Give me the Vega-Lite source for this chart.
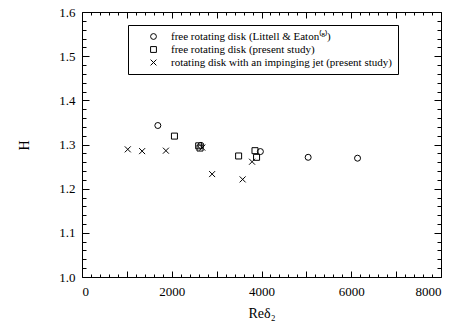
{
  "$schema": "https://vega.github.io/schema/vega-lite/v6.json",
  "autosize": {"type": "none"},
  "width": 359,
  "height": 265,
  "padding": {"left": 82, "top": 12, "right": 20, "bottom": 56},
  "background": "white",
  "config": {
    "view": {"stroke": "black", "strokeWidth": 1},
    "font": "Liberation Serif",
    "axis": {
      "grid": false,
      "domain": false,
      "labelFont": "Liberation Serif",
      "labelFontSize": 13,
      "labelColor": "black",
      "titleFont": "Liberation Serif",
      "titleFontSize": 14,
      "titleFontWeight": "normal",
      "titleColor": "black",
      "tickColor": "black",
      "tickWidth": 1
    }
  },
  "data": {
    "values": [
      {"Re": 1690, "H": 1.343, "series": "free rotating disk (Littell & Eaton⁽⁸⁾)"},
      {"Re": 2650, "H": 1.298, "series": "free rotating disk (Littell & Eaton⁽⁸⁾)"},
      {"Re": 3975, "H": 1.284, "series": "free rotating disk (Littell & Eaton⁽⁸⁾)"},
      {"Re": 5040, "H": 1.271, "series": "free rotating disk (Littell & Eaton⁽⁸⁾)"},
      {"Re": 6140, "H": 1.269, "series": "free rotating disk (Littell & Eaton⁽⁸⁾)"},
      {"Re": 2060, "H": 1.319, "series": "free rotating disk (present study)"},
      {"Re": 2600, "H": 1.297, "series": "free rotating disk (present study)"},
      {"Re": 2630, "H": 1.292, "series": "free rotating disk (present study)"},
      {"Re": 3490, "H": 1.274, "series": "free rotating disk (present study)"},
      {"Re": 3855, "H": 1.286, "series": "free rotating disk (present study)"},
      {"Re": 3890, "H": 1.271, "series": "free rotating disk (present study)"},
      {"Re": 1020, "H": 1.289, "series": "rotating disk with an impinging jet (present study)"},
      {"Re": 1340, "H": 1.285, "series": "rotating disk with an impinging jet (present study)"},
      {"Re": 1870, "H": 1.286, "series": "rotating disk with an impinging jet (present study)"},
      {"Re": 2680, "H": 1.293, "series": "rotating disk with an impinging jet (present study)"},
      {"Re": 2900, "H": 1.233, "series": "rotating disk with an impinging jet (present study)"},
      {"Re": 3580, "H": 1.221, "series": "rotating disk with an impinging jet (present study)"},
      {"Re": 3790, "H": 1.261, "series": "rotating disk with an impinging jet (present study)"}
    ]
  },
  "resolve": {"axis": {"x": "independent", "y": "independent"}},
  "layer": [
    {
      "mark": {"type": "point", "filled": false, "color": "black", "strokeWidth": 1, "opacity": 1},
      "encoding": {
        "x": {
          "field": "Re", "type": "quantitative",
          "scale": {"domain": [0, 8000], "nice": false, "zero": false},
          "axis": {"orient": "bottom", "values": [0, 2000, 4000, 6000, 8000], "format": "d", "ticks": false, "labelPadding": 8, "title": "Reδ₂", "titlePadding": 8}
        },
        "y": {
          "field": "H", "type": "quantitative",
          "scale": {"domain": [1.0, 1.6], "nice": false, "zero": false},
          "axis": {"orient": "left", "values": [1.0, 1.1, 1.2, 1.3, 1.4, 1.5, 1.6], "format": ".1f", "ticks": false, "labelPadding": 7, "title": "H", "titleX": -58, "titleY": 133, "titleAngle": -90, "titleBaseline": "middle"}
        },
        "shape": {
          "field": "series", "type": "nominal",
          "scale": {
            "domain": ["free rotating disk (Littell & Eaton⁽⁸⁾)", "free rotating disk (present study)", "rotating disk with an impinging jet (present study)"],
            "range": ["circle", "square", "M-1,-1L1,1M-1,1L1,-1"]
          },
          "legend": {
            "orient": "none", "legendX": 46, "legendY": 13, "title": null,
            "strokeColor": "black", "padding": 6, "fillColor": "white",
            "labelFont": "Liberation Serif", "labelFontSize": 11, "labelColor": "black", "labelLimit": 400,
            "symbolSize": 34, "symbolStrokeWidth": 1, "symbolStrokeColor": "black", "symbolFillColor": "transparent",
            "symbolOffset": 14, "labelOffset": 12, "rowPadding": 1
          }
        },
        "size": {"value": 36}
      }
    },
    {
      "mark": {"type": "point", "opacity": 0},
      "encoding": {
        "x": {"field": "Re", "type": "quantitative", "axis": {"orient": "bottom", "values": [0, 1000, 2000, 3000, 4000, 5000, 6000, 7000, 8000], "labels": false, "tickSize": -6, "title": null}},
        "y": {"field": "H", "type": "quantitative", "axis": {"orient": "left", "values": [1.0, 1.1, 1.2, 1.3, 1.4, 1.5, 1.6], "labels": false, "tickSize": -7, "title": null}}
      }
    },
    {
      "mark": {"type": "point", "opacity": 0},
      "encoding": {
        "x": {"field": "Re", "type": "quantitative", "axis": {"orient": "bottom", "values": [200, 400, 600, 800, 1200, 1400, 1600, 1800, 2200, 2400, 2600, 2800, 3200, 3400, 3600, 3800, 4200, 4400, 4600, 4800, 5200, 5400, 5600, 5800, 6200, 6400, 6600, 6800, 7200, 7400, 7600, 7800], "labels": false, "tickSize": -3, "title": null}},
        "y": {"field": "H", "type": "quantitative", "axis": {"orient": "left", "values": [1.02, 1.04, 1.06, 1.08, 1.12, 1.14, 1.16, 1.18, 1.22, 1.24, 1.26, 1.28, 1.32, 1.34, 1.36, 1.38, 1.42, 1.44, 1.46, 1.48, 1.52, 1.54, 1.56, 1.58], "labels": false, "tickSize": -4, "title": null}}
      }
    },
    {
      "mark": {"type": "point", "opacity": 0},
      "encoding": {
        "x": {"field": "Re", "type": "quantitative", "axis": {"orient": "top", "values": [0, 1000, 2000, 3000, 4000, 5000, 6000, 7000, 8000], "labels": false, "tickSize": -6, "title": null}},
        "y": {"field": "H", "type": "quantitative", "axis": {"orient": "right", "values": [1.0, 1.1, 1.2, 1.3, 1.4, 1.5, 1.6], "labels": false, "tickSize": -7, "title": null}}
      }
    },
    {
      "mark": {"type": "point", "opacity": 0},
      "encoding": {
        "x": {"field": "Re", "type": "quantitative", "axis": {"orient": "top", "values": [200, 400, 600, 800, 1200, 1400, 1600, 1800, 2200, 2400, 2600, 2800, 3200, 3400, 3600, 3800, 4200, 4400, 4600, 4800, 5200, 5400, 5600, 5800, 6200, 6400, 6600, 6800, 7200, 7400, 7600, 7800], "labels": false, "tickSize": -3, "title": null}},
        "y": {"field": "H", "type": "quantitative", "axis": {"orient": "right", "values": [1.02, 1.04, 1.06, 1.08, 1.12, 1.14, 1.16, 1.18, 1.22, 1.24, 1.26, 1.28, 1.32, 1.34, 1.36, 1.38, 1.42, 1.44, 1.46, 1.48, 1.52, 1.54, 1.56, 1.58], "labels": false, "tickSize": -4, "title": null}}
      }
    }
  ]
}
